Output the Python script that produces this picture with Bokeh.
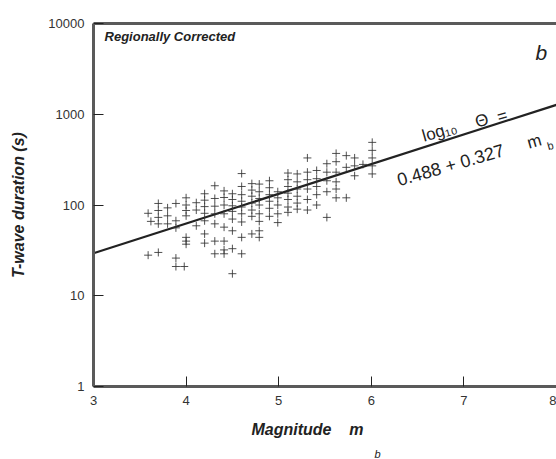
import math
from bokeh.plotting import figure
from bokeh.models import LinearAxis, FixedTicker, Label, Range1d, NumeralTickFormatter, Title
from bokeh.embed import file_html
from bokeh.resources import INLINE

# ---- data ----
magnitude = (
    [3.59] * 2 + [3.62] + [3.70] * 5 + [3.80] * 3 + [3.89] * 5 + [3.98] +
    [4.00] * 7 + [4.11] * 3 + [4.20] * 7 + [4.31] * 7 + [4.41] * 8 +
    [4.50] * 8 + [4.60] * 9 + [4.71] * 7 + [4.79] * 8 + [4.90] * 6 +
    [4.99] * 5 + [5.10] * 7 + [5.20] * 6 + [5.31] * 6 + [5.41] * 5 +
    [5.52] * 5 + [5.62] * 6 + [5.73] * 3 + [5.82] * 3 + [5.91] + [6.01] * 5
)
duration = [
    81, 28,
    66,
    104, 87, 73, 62, 30,
    93, 76, 62,
    104, 67, 56, 26, 21,
    21,
    120, 100, 87, 76, 44, 40, 37,
    106, 88, 59,
    133, 113, 96, 81, 67, 48, 38,
    163, 118, 97, 80, 62, 40, 29,
    143, 121, 100, 80, 57, 40, 29, 32,
    133, 115, 98, 85, 70, 52, 33, 17.5,
    222, 160, 130, 110, 95, 80, 65, 44, 29,
    172, 146, 125, 105, 88, 75, 48,
    170, 140, 118, 100, 80, 66, 52, 44,
    185, 155, 130, 110, 92, 75,
    140, 120, 100, 80, 64,
    225, 190, 160, 135, 115, 95, 83,
    220, 180, 150, 125, 105, 90,
    330, 230, 190, 150, 115, 88,
    240, 195, 160, 130, 100,
    285, 230, 185, 140, 73,
    370, 300, 230, 180, 150, 120,
    350, 260, 120,
    330, 270, 210,
    280,
    490, 400, 330, 270, 220,
]
x_ticks = [3, 4, 5, 6, 7, 8]
y_ticks = [1, 10, 100, 1000, 10000]
fit_intercept = 0.488
fit_slope = 0.327
fit_x = [3, 8]
fit_y = [10 ** (fit_intercept + fit_slope * m) for m in fit_x]

FONT = "Liberation Sans"
INK = "#222222"
FRAME = "#5a5a5a"

W, H = 556, 459
p = figure(width=W, height=H, x_range=Range1d(3, 8), y_range=Range1d(1, 10000),
           y_axis_type="log", output_backend="svg", toolbar_location=None,
           min_border_left=93, min_border_right=0, min_border_top=23, min_border_bottom=73,
           background_fill_color="white", border_fill_color="white")
p.grid.visible = False
p.outline_line_color = None

for ax in (p.xaxis[0], p.yaxis[0]):
    ax.axis_line_color = FRAME
    ax.axis_line_width = 3
    ax.major_tick_in = 10
    ax.major_tick_out = 0
    ax.major_tick_line_color = INK
    ax.major_tick_line_width = 1
    ax.minor_tick_line_color = None
    ax.major_label_text_font = FONT
    ax.major_label_text_font_size = "13px"
    ax.major_label_text_color = "#333333"
    ax.major_label_standoff = 9
p.xaxis.ticker = FixedTicker(ticks=x_ticks)
p.yaxis.ticker = FixedTicker(ticks=y_ticks)
p.yaxis.formatter = NumeralTickFormatter(format="0")

p.yaxis.axis_label = "T-wave duration (s)"
p.yaxis.axis_label_text_font = FONT
p.yaxis.axis_label_text_font_size = "16px"
p.yaxis.axis_label_text_font_style = "bold italic"
p.yaxis.axis_label_text_color = INK
p.yaxis.axis_label_standoff = 18

top = LinearAxis(ticker=FixedTicker(ticks=[]), axis_line_color=FRAME, axis_line_width=3,
                 major_label_text_font_size="0px", major_tick_out=0, major_tick_in=0,
                 minor_tick_out=0, minor_tick_in=0, major_label_standoff=0)
p.add_layout(top, "above")

# x-axis title, with its subscript "b" in a second row just below
p.add_layout(Title(text="Magnitude\u00a0\u00a0\u00a0\u00a0m", align="left", offset=158,
                   text_font=FONT, text_font_size="16px", text_font_style="bold italic",
                   text_color=INK, standoff=23), "below")
p.add_layout(Title(text="b", align="left", offset=281, text_font=FONT,
                   text_font_size="11px", text_font_style="italic",
                   text_color=INK, standoff=-7), "below")

p.line(fit_x, fit_y, line_color=INK, line_width=2.2)
p.scatter(magnitude, duration, marker="cross", size=8, line_color="#333333",
          line_width=1, line_alpha=0.85)

def lab(text, x, y, size, style="normal", angle=0.0, align="left"):
    p.add_layout(Label(x=x, y=y, text=text, text_font=FONT, text_font_size=size,
                       text_font_style=style, text_color=INK, angle=angle,
                       text_align=align, text_baseline="alphabetic"))

lab("Regionally Corrected", 3.119, 7190, "13px", "bold italic")
lab("b", 7.773, 4790, "21px", "italic")
ang = math.radians(16)
lab("log\u2081\u2080", 6.553, 569, "17px", angle=ang)
lab("\u0398", 7.125, 811, "17px", angle=ang)
lab("=", 7.363, 921, "17px", angle=ang)
lab("0.488 + 0.327", 6.283, 186, "18px", angle=ang)
lab("m", 7.687, 476, "17px", angle=ang)
lab("b", 7.903, 441, "11px", angle=ang)

open("out.html", "w").write(file_html(p, INLINE))
